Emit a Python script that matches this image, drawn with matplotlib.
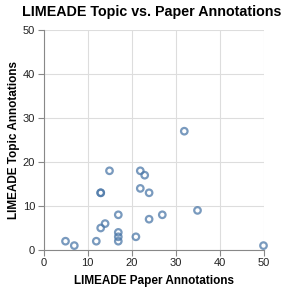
import matplotlib
matplotlib.use("Agg")
import matplotlib.pyplot as plt

plt.rcParams['font.family'] = ['Liberation Sans', 'DejaVu Sans']

paper = [32, 15, 22, 23, 13, 13, 22, 24, 35, 17, 27, 24, 14, 13, 17, 17, 17, 21, 5, 7, 12, 50]
topic = [27, 18, 18, 17, 13, 13, 14, 13, 9, 8, 8, 7, 6, 5, 4, 3, 2, 3, 2, 1, 2, 1]
xticks = [0, 10, 20, 30, 40, 50]
yticks = [0, 10, 20, 30, 40, 50]

W, H = 290, 291
fig = plt.figure(figsize=(W/100, H/100), dpi=100)
l, r, b, t = 43.5, 263.5, 250, 30
ax = fig.add_axes([l/W, 1-b/H, (r-l)/W, (b-t)/H])
ax.scatter(paper, topic, s=22, facecolors='none', edgecolors='#4c78a8', linewidths=1.6, alpha=0.75, zorder=3, clip_on=False)
ax.set_xlim(0, 50)
ax.set_ylim(0, 50)
ax.set_xticks(xticks)
ax.set_yticks(yticks)
ax.grid(True, color='#dddddd', linewidth=0.8, zorder=0)
for s in ['top', 'right']:
    ax.spines[s].set_visible(False)
for s in ['left', 'bottom']:
    ax.spines[s].set_color('#888888')
    ax.spines[s].set_linewidth(0.8)
ax.tick_params(colors='#888888', length=4, width=0.8, labelsize=8, labelcolor='#222222', pad=2)
ax.set_xlabel('LIMEADE Paper Annotations', fontsize=8.5, fontweight='bold', labelpad=5)
ax.set_ylabel('LIMEADE Topic Annotations', fontsize=8.5, fontweight='bold', labelpad=2)
fig.text(152/W, 1-12/H, 'LIMEADE Topic vs. Paper Annotations', ha='center', va='center', fontsize=10.3, fontweight='bold')
fig.savefig('out.png', dpi=100)
